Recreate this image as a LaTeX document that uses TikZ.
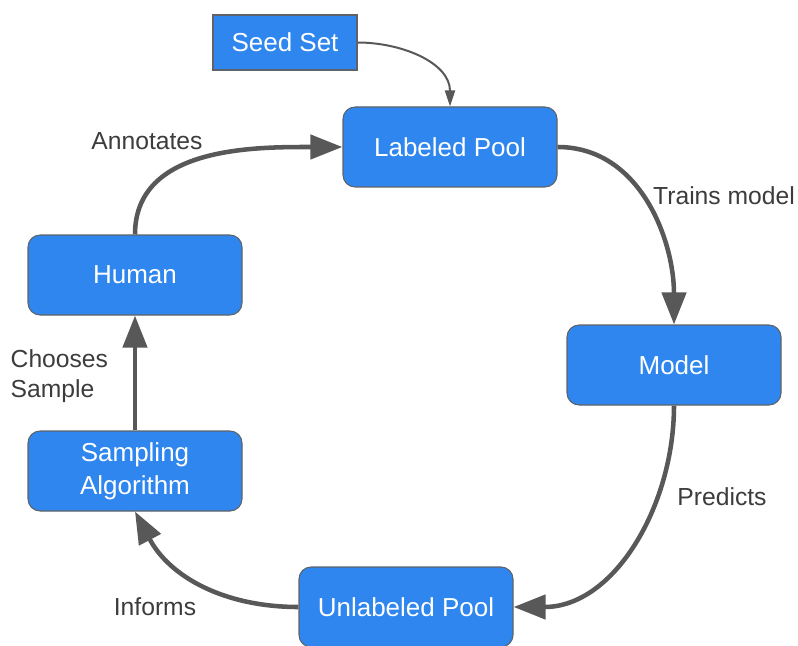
\documentclass[tikz,border=0pt]{standalone}
\usepackage{fontspec}
\setmainfont{Liberation Sans}
\usetikzlibrary{arrows.meta}

\definecolor{boxblue}{RGB}{46,134,238}
\definecolor{boxline}{RGB}{95,99,104}
\definecolor{arrowgray}{RGB}{88,88,88}
\definecolor{labelgray}{RGB}{60,60,60}

\tikzset{
  box/.style={draw=boxline, line width=0.8pt, fill=boxblue, text=white,
    rounded corners=9pt, minimum width=160.5pt, minimum height=60pt,
    inner sep=0pt, align=center, font=\fontsize{19.5}{24}\selectfont},
  seedbox/.style={box, rounded corners=0pt, minimum width=108pt, minimum height=41.25pt},
  flow/.style={draw=arrowgray, line width=3.4pt,
    -{Triangle[length=24pt, width=18pt]}},
  seedflow/.style={draw=arrowgray, line width=1.5pt,
    -{Triangle[length=12pt, width=7.5pt]}},
  lbl/.style={text=labelgray, font=\fontsize{18.5}{22}\selectfont}
}

\begin{document}
\begin{tikzpicture}[x=0.75pt, y=-0.75pt]

\useasboundingbox (0,0) rectangle (798,645);

\node[seedbox] (seed) at (285,42.5) {Seed Set};
\node[box] (labeled) at (450,147) {Labeled Pool};
\node[box] (model) at (674,365) {Model};
\node[box] (unlabeled) at (406,607) {Unlabeled Pool};
\node[box] (sampling) at (135,471) {Sampling\\[1pt]Algorithm};
\node[box] (human) at (135,275) {Human};

\draw[seedflow] (seed.east) to[out=0, in=90] (labeled.north);
\draw[flow] (labeled.east) to[out=0, in=90] (model.north);
\draw[flow] (model.south) to[out=-90, in=0] (unlabeled.east);
\draw[flow] (unlabeled.west) to[out=180, in=-62] (sampling.south);
\draw[flow] (sampling.north) -- (human.south);
\draw[flow] (human.north) to[out=90, in=180] (labeled.west);

\node[lbl] (trains) at (724,196) {Trains model};
\node[lbl] (predicts) at (722,497) {Predicts};
\node[lbl] (informs) at (155,607) {Informs};
\node[lbl, anchor=west, align=left] (chooses) at (6,376) {Chooses\\Sample};
\node[lbl] (annotates) at (147,141) {Annotates};

\end{tikzpicture}
\end{document}
